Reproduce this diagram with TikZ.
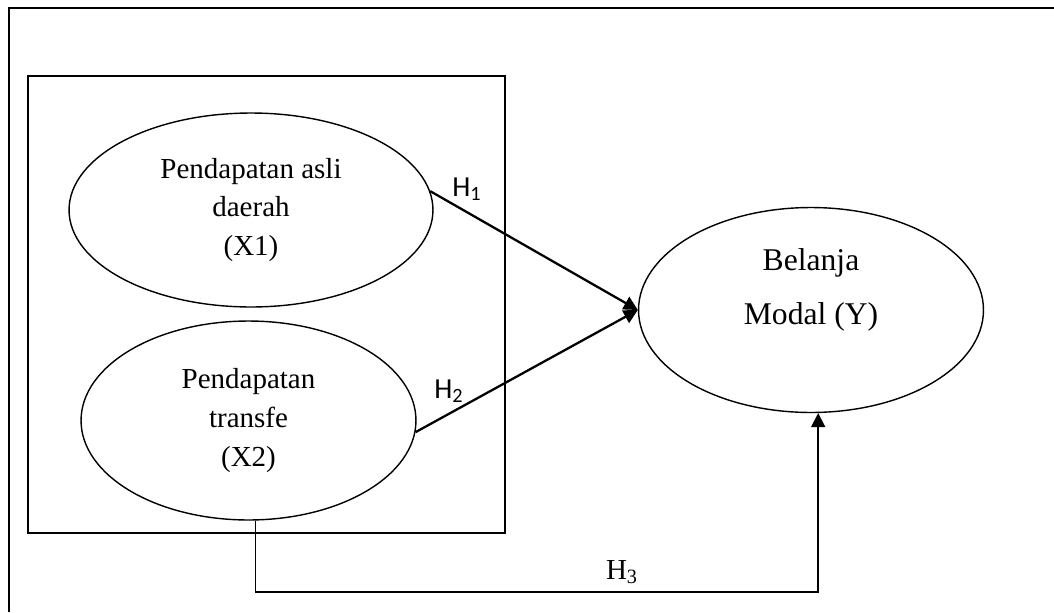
\documentclass[tikz,border=0pt]{standalone}
\usepackage{fontspec}
\setmainfont{Liberation Serif}
\newfontfamily\calibri{Carlito}
\usepackage{tikz}
\usetikzlibrary{positioning}
\usetikzlibrary{shapes.geometric}
\usetikzlibrary{arrows.meta}

\begin{document}
\begin{tikzpicture}[
  x=0.02cm, y=-0.02cm,
  var/.style={draw, ellipse, line width=0.8pt, inner sep=0pt, align=center, font=\fontsize{16.5}{22}\selectfont},
  arrow/.style={-{Triangle[length=8pt,width=8pt]}, line width=1.3pt},
  hlabel/.style={font=\calibri\fontsize{16.5}{19}\selectfont},
  frame/.style={line width=1pt}
]
\useasboundingbox (0,0) rectangle (1054,612);
\draw[line width=1.3pt] (9,612) -- (9,8) -- (1054,8);
\draw[frame] (28,76) rectangle (505,533);

\node[var, minimum width=7.28cm, minimum height=3.88cm] (x1) at (251,210) {Pendapatan asli\\daerah\\(X1)};
\node[var, minimum width=6.7cm, minimum height=3.98cm] (x2) at (248.5,420.5) {Pendapatan\\transfe\\(X2)};
\node[var, minimum width=6.9cm, minimum height=4.1cm] (y) at (811,310) {};
\node[align=center, font=\fontsize{18}{31}\selectfont] (ytext) at ([yshift=0.4cm]y.center) {Belanja\\Modal (Y)};

\coordinate (h3base) at (0,592);

\draw[arrow] (x1.6) -- (y.west);
\draw[arrow] (x2.356) -- (y.west);
\draw[arrow, line width=1pt] (x2.274) -- (x2.274 |- h3base) -| (y.274);

\node[hlabel] (h1) at (467,189) {H\textsubscript{1}};
\node[hlabel] (h2) at (449,391) {H\textsubscript{2}};
\node[font=\fontsize{16.5}{20}\selectfont] (h3) at (622,572) {H\textsubscript{3}};

\end{tikzpicture}
\end{document}
